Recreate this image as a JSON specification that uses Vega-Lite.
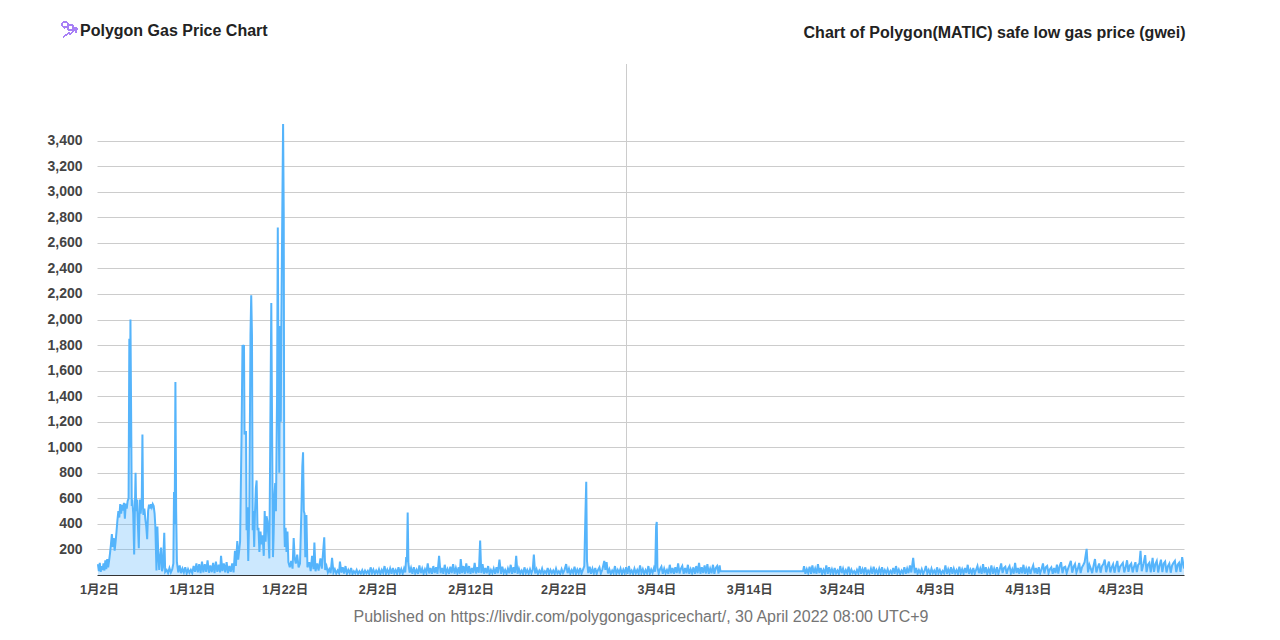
{"$schema":"https://vega.github.io/schema/vega-lite/v6.json","width":1087,"height":511,"autosize":{"type":"none"},"padding":{"left":97,"top":64,"right":96,"bottom":65},"background":"white",
"title":{"text":"Polygon Gas Price Chart","anchor":"start","frame":"group","dx":-17,"offset":-19,"fontSize":16,"fontWeight":"bold","font":"Liberation Sans","color":"#222222"},
"config":{"view":{"stroke":null}},
"datasets":{"gas":[
{"d":0,"g":85},{"d":0.1,"g":30},{"d":0.2,"g":95},{"d":0.3,"g":25},{"d":0.4,"g":70},{"d":0.5,"g":40},{"d":0.6,"g":90},{"d":0.7,"g":35},{"d":0.8,"g":115},{"d":0.9,"g":45},{"d":1,"g":125},{"d":1.1,"g":60},{"d":1.2,"g":110},{"d":1.3,"g":170},{"d":1.4,"g":240},{"d":1.5,"g":320},{"d":1.6,"g":220},{"d":1.7,"g":290},{"d":1.8,"g":190},{"d":1.9,"g":260},{"d":2,"g":340},{"d":2.1,"g":430},{"d":2.2,"g":500},{"d":2.3,"g":450},{"d":2.4,"g":555},{"d":2.5,"g":480},{"d":2.6,"g":550},{"d":2.7,"g":505},{"d":2.8,"g":565},{"d":2.9,"g":440},{"d":3,"g":560},{"d":3.1,"g":520},{"d":3.2,"g":580},{"d":3.3,"g":600},{"d":3.38,"g":1850},{"d":3.44,"g":1000},{"d":3.5,"g":2000},{"d":3.58,"g":1200},{"d":3.64,"g":540},{"d":3.7,"g":590},{"d":3.8,"g":480},{"d":3.9,"g":160},{"d":3.98,"g":520},{"d":4.05,"g":800},{"d":4.12,"g":500},{"d":4.2,"g":590},{"d":4.3,"g":400},{"d":4.4,"g":210},{"d":4.5,"g":590},{"d":4.6,"g":480},{"d":4.72,"g":600},{"d":4.79,"g":1100},{"d":4.86,"g":520},{"d":4.9,"g":470},{"d":5,"g":520},{"d":5.1,"g":440},{"d":5.2,"g":380},{"d":5.3,"g":280},{"d":5.4,"g":500},{"d":5.5,"g":550},{"d":5.6,"g":520},{"d":5.7,"g":555},{"d":5.8,"g":530},{"d":5.9,"g":555},{"d":6,"g":540},{"d":6.1,"g":480},{"d":6.18,"g":380},{"d":6.3,"g":35},{"d":6.4,"g":380},{"d":6.5,"g":150},{"d":6.6,"g":40},{"d":6.7,"g":150},{"d":6.8,"g":215},{"d":6.9,"g":30},{"d":7,"g":60},{"d":7.14,"g":330},{"d":7.24,"g":25},{"d":7.4,"g":40},{"d":7.55,"g":15},{"d":7.7,"g":55},{"d":7.85,"g":20},{"d":8,"g":45},{"d":8.12,"g":90},{"d":8.19,"g":650},{"d":8.26,"g":400},{"d":8.34,"g":1510},{"d":8.42,"g":500},{"d":8.5,"g":100},{"d":8.65,"g":20},{"d":8.8,"g":75},{"d":8.95,"g":15},{"d":9.1,"g":50},{"d":9.25,"g":20},{"d":9.4,"g":60},{"d":9.55,"g":12},{"d":9.7,"g":45},{"d":9.85,"g":18},{"d":10,"g":40},{"d":10.15,"g":15},{"d":10.3,"g":70},{"d":10.45,"g":25},{"d":10.6,"g":90},{"d":10.75,"g":20},{"d":10.9,"g":85},{"d":11.05,"g":15},{"d":11.2,"g":105},{"d":11.35,"g":20},{"d":11.5,"g":85},{"d":11.65,"g":25},{"d":11.8,"g":115},{"d":11.95,"g":18},{"d":12.1,"g":75},{"d":12.25,"g":22},{"d":12.4,"g":95},{"d":12.55,"g":15},{"d":12.7,"g":105},{"d":12.85,"g":25},{"d":13,"g":80},{"d":13.15,"g":20},{"d":13.25,"g":150},{"d":13.4,"g":30},{"d":13.55,"g":90},{"d":13.7,"g":20},{"d":13.85,"g":100},{"d":14,"g":15},{"d":14.15,"g":70},{"d":14.3,"g":25},{"d":14.45,"g":90},{"d":14.6,"g":20},{"d":14.75,"g":190},{"d":14.85,"g":70},{"d":15,"g":265},{"d":15.1,"g":120},{"d":15.3,"g":260},{"d":15.46,"g":1100},{"d":15.56,"g":1800},{"d":15.64,"g":1780},{"d":15.72,"g":1800},{"d":15.78,"g":1100},{"d":15.86,"g":1120},{"d":15.94,"g":1120},{"d":16,"g":350},{"d":16.08,"g":530},{"d":16.18,"g":110},{"d":16.3,"g":540},{"d":16.42,"g":1880},{"d":16.5,"g":2190},{"d":16.58,"g":1880},{"d":16.66,"g":350},{"d":16.72,"g":500},{"d":16.82,"g":220},{"d":16.9,"g":480},{"d":17,"g":680},{"d":17.08,"g":740},{"d":17.18,"g":350},{"d":17.28,"g":370},{"d":17.38,"g":180},{"d":17.5,"g":340},{"d":17.6,"g":240},{"d":17.72,"g":310},{"d":17.85,"g":150},{"d":17.95,"g":500},{"d":18.05,"g":260},{"d":18.15,"g":460},{"d":18.25,"g":420},{"d":18.35,"g":290},{"d":18.45,"g":130},{"d":18.55,"g":1080},{"d":18.66,"g":2130},{"d":18.76,"g":1000},{"d":18.84,"g":140},{"d":18.9,"g":280},{"d":19,"g":620},{"d":19.08,"g":720},{"d":19.16,"g":500},{"d":19.28,"g":1400},{"d":19.36,"g":2720},{"d":19.45,"g":1300},{"d":19.52,"g":800},{"d":19.6,"g":1950},{"d":19.68,"g":1200},{"d":19.74,"g":1950},{"d":19.84,"g":2800},{"d":19.93,"g":3530},{"d":20,"g":2820},{"d":20.06,"g":370},{"d":20.12,"g":220},{"d":20.2,"g":370},{"d":20.3,"g":180},{"d":20.4,"g":340},{"d":20.5,"g":100},{"d":20.65,"g":60},{"d":20.8,"g":110},{"d":20.95,"g":50},{"d":21.07,"g":290},{"d":21.18,"g":130},{"d":21.3,"g":90},{"d":21.45,"g":160},{"d":21.6,"g":60},{"d":21.75,"g":90},{"d":21.9,"g":500},{"d":22,"g":850},{"d":22.08,"g":960},{"d":22.16,"g":500},{"d":22.24,"g":480},{"d":22.32,"g":140},{"d":22.44,"g":470},{"d":22.55,"g":60},{"d":22.75,"g":100},{"d":22.9,"g":30},{"d":23.05,"g":150},{"d":23.2,"g":45},{"d":23.3,"g":255},{"d":23.42,"g":30},{"d":23.6,"g":90},{"d":23.75,"g":35},{"d":23.95,"g":130},{"d":24.1,"g":50},{"d":24.28,"g":220},{"d":24.36,"g":295},{"d":24.46,"g":40},{"d":24.6,"g":70},{"d":24.75,"g":20},{"d":24.9,"g":45},{"d":25.05,"g":15},{"d":25.2,"g":135},{"d":25.35,"g":20},{"d":25.5,"g":45},{"d":25.65,"g":12},{"d":25.8,"g":35},{"d":25.95,"g":15},{"d":26.05,"g":105},{"d":26.2,"g":18},
{"d":26.35,"g":60},{"d":26.5,"g":12},{"d":26.65,"g":70},{"d":26.8,"g":10},{"d":26.95,"g":40},{"d":27.1,"g":15},{"d":27.25,"g":55},{"d":27.4,"g":8},{"d":27.55,"g":30},{"d":27.7,"g":14},{"d":27.85,"g":40},{"d":28,"g":10},{"d":28.15,"g":30},{"d":28.3,"g":12},{"d":28.45,"g":38},{"d":28.6,"g":8},{"d":28.75,"g":35},{"d":28.9,"g":14},{"d":29.05,"g":32},{"d":29.2,"g":9},{"d":29.35,"g":60},{"d":29.5,"g":15},{"d":29.65,"g":42},{"d":29.8,"g":10},{"d":29.95,"g":35},{"d":30.1,"g":14},{"d":30.25,"g":45},{"d":30.4,"g":8},{"d":30.55,"g":40},{"d":30.7,"g":16},{"d":30.85,"g":70},{"d":31,"g":10},{"d":31.15,"g":42},{"d":31.3,"g":12},{"d":31.45,"g":50},{"d":31.6,"g":9},{"d":31.75,"g":55},{"d":31.9,"g":14},{"d":32.05,"g":38},{"d":32.2,"g":10},{"d":32.35,"g":60},{"d":32.5,"g":15},{"d":32.65,"g":45},{"d":32.8,"g":10},{"d":32.95,"g":50},{"d":33.08,"g":20},{"d":33.18,"g":140},{"d":33.26,"g":100},{"d":33.34,"g":490},{"d":33.42,"g":90},{"d":33.55,"g":18},{"d":33.7,"g":55},{"d":33.85,"g":10},{"d":34,"g":60},{"d":34.15,"g":14},{"d":34.3,"g":40},{"d":34.45,"g":9},{"d":34.6,"g":75},{"d":34.75,"g":15},{"d":34.9,"g":50},{"d":35.05,"g":10},{"d":35.2,"g":45},{"d":35.35,"g":16},{"d":35.5,"g":90},{"d":35.65,"g":12},{"d":35.8,"g":55},{"d":35.95,"g":9},{"d":36.1,"g":70},{"d":36.25,"g":15},{"d":36.4,"g":60},{"d":36.55,"g":10},{"d":36.72,"g":150},{"d":36.88,"g":14},{"d":37.03,"g":55},{"d":37.18,"g":10},{"d":37.33,"g":80},{"d":37.48,"g":15},{"d":37.63,"g":45},{"d":37.78,"g":9},{"d":37.93,"g":65},{"d":38.08,"g":14},{"d":38.23,"g":85},{"d":38.38,"g":10},{"d":38.53,"g":55},{"d":38.68,"g":16},{"d":38.83,"g":60},{"d":38.95,"g":10},{"d":39.05,"g":125},{"d":39.2,"g":15},{"d":39.35,"g":70},{"d":39.5,"g":10},{"d":39.65,"g":90},{"d":39.8,"g":14},{"d":39.95,"g":70},{"d":40.1,"g":9},{"d":40.25,"g":55},{"d":40.4,"g":15},{"d":40.55,"g":95},{"d":40.7,"g":12},{"d":40.85,"g":60},{"d":41,"g":18},{"d":41.14,"g":270},{"d":41.26,"g":15},{"d":41.4,"g":85},{"d":41.55,"g":10},{"d":41.7,"g":55},{"d":41.85,"g":14},{"d":42,"g":70},{"d":42.15,"g":9},{"d":42.3,"g":40},{"d":42.45,"g":15},{"d":42.6,"g":50},{"d":42.75,"g":10},{"d":42.9,"g":60},{"d":43.05,"g":14},{"d":43.22,"g":120},{"d":43.38,"g":10},{"d":43.53,"g":65},{"d":43.68,"g":15},{"d":43.83,"g":40},{"d":43.98,"g":9},{"d":44.13,"g":50},{"d":44.28,"g":14},{"d":44.43,"g":80},{"d":44.58,"g":10},{"d":44.73,"g":60},{"d":44.88,"g":16},{"d":45.02,"g":150},{"d":45.16,"g":10},{"d":45.31,"g":50},{"d":45.46,"g":14},{"d":45.61,"g":35},{"d":45.76,"g":9},{"d":45.91,"g":60},{"d":46.06,"g":15},{"d":46.21,"g":40},{"d":46.36,"g":10},{"d":46.51,"g":45},{"d":46.66,"g":14},{"d":46.8,"g":40},{"d":46.92,"g":160},{"d":47.06,"g":12},{"d":47.21,"g":45},{"d":47.36,"g":9},{"d":47.51,"g":35},{"d":47.66,"g":15},{"d":47.81,"g":50},{"d":47.96,"g":10},{"d":48.11,"g":30},{"d":48.26,"g":14},{"d":48.41,"g":55},{"d":48.56,"g":9},{"d":48.71,"g":40},{"d":48.86,"g":15},{"d":49.01,"g":35},{"d":49.16,"g":10},{"d":49.31,"g":50},{"d":49.46,"g":14},{"d":49.61,"g":30},{"d":49.76,"g":9},{"d":49.91,"g":45},{"d":50.06,"g":15},{"d":50.2,"g":35},{"d":50.4,"g":85},{"d":50.55,"g":14},{"d":50.7,"g":50},{"d":50.85,"g":10},{"d":51,"g":38},{"d":51.15,"g":15},{"d":51.3,"g":65},{"d":51.45,"g":9},{"d":51.6,"g":42},{"d":51.75,"g":14},{"d":51.9,"g":55},{"d":52.05,"g":10},{"d":52.2,"g":40},{"d":52.35,"g":70},{"d":52.48,"g":500},{"d":52.56,"g":730},{"d":52.64,"g":110},{"d":52.78,"g":15},{"d":52.93,"g":65},{"d":53.08,"g":10},{"d":53.23,"g":50},{"d":53.38,"g":14},{"d":53.53,"g":55},{"d":53.68,"g":9},{"d":53.83,"g":40},{"d":53.98,"g":60},{"d":54.13,"g":12},{"d":54.3,"g":45},{"d":54.5,"g":110},{"d":54.62,"g":40},{"d":54.75,"g":100},{"d":54.9,"g":12},{"d":55.05,"g":45},{"d":55.2,"g":9},{"d":55.35,"g":35},{"d":55.5,"g":14},{"d":55.65,"g":70},{"d":55.8,"g":10},{"d":55.95,"g":40},{"d":56.1,"g":15},{"d":56.25,"g":50},{"d":56.4,"g":9},{"d":56.55,"g":42},{"d":56.7,"g":14},{"d":56.85,"g":60},{"d":57,"g":10},{"d":57.15,"g":70},{"d":57.3,"g":15},{"d":57.45,"g":35},{"d":57.6,"g":9},{"d":57.75,"g":50},{"d":57.9,"g":14},{"d":58.05,"g":40},{"d":58.2,"g":10},{"d":58.35,"g":75},{"d":58.5,"g":15},{"d":58.65,"g":45},{"d":58.8,"g":9},{"d":58.95,"g":38},{"d":59.1,"g":14},{"d":59.25,"g":70},{"d":59.4,"g":10},{"d":59.55,"g":42},{"d":59.7,"g":16},{"d":59.85,"g":55},{"d":59.98,"g":25},{"d":60.08,"g":380},{"d":60.15,"g":415},{"d":60.22,"g":60},{"d":60.36,"g":12},{"d":60.5,"g":45},{"d":60.65,"g":65},{"d":60.8,"g":10},{"d":60.95,"g":50},{"d":61.1,"g":15},{"d":61.25,"g":40},{"d":61.4,"g":9},{"d":61.55,"g":80},{"d":61.7,"g":14},{"d":61.85,"g":55},{"d":62,"g":10},{"d":62.15,"g":60},{"d":62.3,"g":15},{"d":62.45,"g":90},{"d":62.6,"g":12},{"d":62.75,"g":50},{"d":62.9,"g":70},{"d":63.05,"g":9},{"d":63.2,"g":55},{"d":63.35,"g":14},{"d":63.5,"g":80},{"d":63.65,"g":10},{"d":63.8,"g":45},{"d":63.95,"g":15},{"d":64.1,"g":60},{"d":64.25,"g":9},{"d":64.4,"g":70},{"d":64.55,"g":14},{"d":64.7,"g":95},{"d":64.85,"g":10},{"d":65,"g":60},{"d":65.15,"g":15},{"d":65.3,"g":75},{"d":65.45,"g":12},{"d":65.6,"g":85},{"d":65.75,"g":9},{"d":65.9,"g":50},{"d":66.05,"g":14},{"d":66.2,"g":80},{"d":66.35,"g":10},{"d":66.5,"g":55},{"d":66.65,"g":70},{"d":66.8,"g":12},{"d":66.92,"g":75},{"d":67,"g":30},{"d":75.9,"g":30},
{"d":76,"g":70},{"d":76.15,"g":10},{"d":76.3,"g":45},{"d":76.45,"g":15},{"d":76.6,"g":65},{"d":76.75,"g":9},{"d":76.9,"g":75},{"d":77.05,"g":14},{"d":77.2,"g":50},{"d":77.35,"g":10},{"d":77.5,"g":85},{"d":77.65,"g":15},{"d":77.8,"g":55},{"d":77.95,"g":9},{"d":78.1,"g":40},{"d":78.25,"g":14},{"d":78.4,"g":75},{"d":78.55,"g":10},{"d":78.7,"g":60},{"d":78.85,"g":15},{"d":79,"g":45},{"d":79.15,"g":9},{"d":79.3,"g":55},{"d":79.45,"g":14},{"d":79.6,"g":35},{"d":79.75,"g":10},{"d":79.9,"g":70},{"d":80.05,"g":15},{"d":80.2,"g":50},{"d":80.35,"g":9},{"d":80.5,"g":38},{"d":80.65,"g":14},{"d":80.8,"g":65},{"d":80.95,"g":10},{"d":81.1,"g":42},{"d":81.25,"g":15},{"d":81.4,"g":30},{"d":81.55,"g":9},{"d":81.7,"g":40},{"d":81.85,"g":14},{"d":82,"g":70},{"d":82.15,"g":10},{"d":82.3,"g":45},{"d":82.45,"g":15},{"d":82.6,"g":60},{"d":82.75,"g":9},{"d":82.9,"g":35},{"d":83.05,"g":14},{"d":83.2,"g":50},{"d":83.35,"g":10},{"d":83.5,"g":65},{"d":83.65,"g":15},{"d":83.8,"g":40},{"d":83.95,"g":9},{"d":84.1,"g":50},{"d":84.25,"g":14},{"d":84.4,"g":60},{"d":84.55,"g":10},{"d":84.7,"g":38},{"d":84.85,"g":15},{"d":85,"g":45},{"d":85.15,"g":9},{"d":85.3,"g":32},{"d":85.45,"g":14},{"d":85.6,"g":55},{"d":85.75,"g":10},{"d":85.9,"g":70},{"d":86.05,"g":15},{"d":86.2,"g":42},{"d":86.35,"g":9},{"d":86.5,"g":35},{"d":86.65,"g":14},{"d":86.8,"g":60},{"d":86.95,"g":10},{"d":87.1,"g":50},{"d":87.25,"g":15},{"d":87.4,"g":75},{"d":87.55,"g":20},{"d":87.75,"g":135},{"d":87.92,"g":14},{"d":88.07,"g":55},{"d":88.22,"g":10},{"d":88.37,"g":38},{"d":88.52,"g":15},{"d":88.67,"g":45},{"d":88.82,"g":9},{"d":88.97,"g":32},{"d":89.12,"g":70},{"d":89.27,"g":14},{"d":89.42,"g":40},{"d":89.57,"g":10},{"d":89.72,"g":50},{"d":89.87,"g":15},{"d":90.02,"g":35},{"d":90.17,"g":9},{"d":90.32,"g":60},{"d":90.47,"g":14},{"d":90.62,"g":40},{"d":90.77,"g":10},{"d":90.92,"g":32},{"d":91.07,"g":15},{"d":91.22,"g":75},{"d":91.37,"g":9},{"d":91.52,"g":45},{"d":91.67,"g":14},{"d":91.82,"g":60},{"d":91.97,"g":10},{"d":92.12,"g":50},{"d":92.27,"g":15},{"d":92.42,"g":38},{"d":92.57,"g":9},{"d":92.72,"g":65},{"d":92.87,"g":14},{"d":93.02,"g":45},{"d":93.17,"g":10},{"d":93.32,"g":55},{"d":93.47,"g":15},{"d":93.62,"g":80},{"d":93.77,"g":9},{"d":93.92,"g":42},{"d":94.07,"g":14},{"d":94.22,"g":55},{"d":94.37,"g":10},{"d":94.52,"g":40},{"d":94.67,"g":70},{"d":94.82,"g":15},{"d":94.97,"g":50},{"d":95.12,"g":9},{"d":95.27,"g":85},{"d":95.42,"g":14},{"d":95.57,"g":60},{"d":95.72,"g":10},{"d":95.87,"g":45},{"d":96.02,"g":15},{"d":96.17,"g":75},{"d":96.32,"g":9},{"d":96.47,"g":50},{"d":96.62,"g":14},{"d":96.77,"g":60},{"d":96.92,"g":10},{"d":97.07,"g":45},{"d":97.22,"g":90},{"d":97.37,"g":15},{"d":97.52,"g":55},{"d":97.67,"g":65},{"d":97.82,"g":9},{"d":97.97,"g":50},{"d":98.12,"g":70},{"d":98.27,"g":14},{"d":98.42,"g":45},{"d":98.57,"g":10},{"d":98.72,"g":95},{"d":98.87,"g":15},{"d":99.02,"g":55},{"d":99.17,"g":9},{"d":99.32,"g":60},{"d":99.47,"g":14},{"d":99.62,"g":80},{"d":99.77,"g":10},{"d":99.92,"g":50},{"d":100.07,"g":15},{"d":100.22,"g":65},{"d":100.37,"g":9},{"d":100.52,"g":45},{"d":100.67,"g":75},{"d":100.82,"g":14},{"d":100.97,"g":55},{"d":101.12,"g":10},{"d":101.27,"g":60},{"d":101.42,"g":15},{"d":101.57,"g":45},{"d":101.72,"g":90},{"d":101.87,"g":12},{"d":102.02,"g":60},{"d":102.17,"g":70},{"d":102.32,"g":14},{"d":102.47,"g":45},{"d":102.62,"g":60},{"d":102.77,"g":10},{"d":102.92,"g":55},{"d":103.07,"g":15},{"d":103.22,"g":80},{"d":103.37,"g":12},{"d":103.52,"g":70},{"d":103.67,"g":100},{"d":103.82,"g":14},{"d":103.97,"g":60},{"d":104.12,"g":65},{"d":104.27,"g":15},{"d":104.42,"g":50},{"d":104.57,"g":80},{"d":104.72,"g":110},{"d":104.87,"g":18},{"d":105.02,"g":65},{"d":105.17,"g":85},{"d":105.32,"g":20},{"d":105.47,"g":50},{"d":105.62,"g":95},{"d":105.77,"g":15},{"d":105.92,"g":60},{"d":106.07,"g":80},{"d":106.2,"g":100},{"d":106.42,"g":205},{"d":106.57,"g":20},{"d":106.72,"g":80},{"d":106.87,"g":50},{"d":107.02,"g":15},{"d":107.17,"g":75},{"d":107.32,"g":125},{"d":107.47,"g":20},{"d":107.62,"g":60},{"d":107.77,"g":90},{"d":107.92,"g":18},{"d":108.07,"g":70},{"d":108.22,"g":85},{"d":108.37,"g":120},{"d":108.52,"g":22},{"d":108.67,"g":70},{"d":108.82,"g":105},{"d":108.97,"g":20},{"d":109.12,"g":60},{"d":109.27,"g":85},{"d":109.42,"g":18},{"d":109.57,"g":70},{"d":109.72,"g":110},{"d":109.87,"g":22},{"d":110.02,"g":65},{"d":110.17,"g":80},{"d":110.32,"g":95},{"d":110.47,"g":20},{"d":110.62,"g":60},{"d":110.77,"g":115},{"d":110.92,"g":25},{"d":111.07,"g":75},{"d":111.22,"g":90},{"d":111.37,"g":20},{"d":111.52,"g":65},{"d":111.67,"g":100},{"d":111.82,"g":22},{"d":111.97,"g":80},{"d":112.1,"g":90},{"d":112.22,"g":190},{"d":112.35,"g":30},{"d":112.55,"g":90},{"d":112.72,"g":155},{"d":112.87,"g":22},{"d":113.02,"g":80},{"d":113.17,"g":95},{"d":113.32,"g":20},{"d":113.52,"g":135},{"d":113.67,"g":25},{"d":113.82,"g":85},{"d":113.97,"g":110},{"d":114.12,"g":20},{"d":114.27,"g":75},{"d":114.42,"g":120},{"d":114.57,"g":22},{"d":114.72,"g":90},{"d":114.87,"g":105},{"d":115.02,"g":20},{"d":115.17,"g":70},{"d":115.32,"g":90},{"d":115.47,"g":18},{"d":115.62,"g":75},{"d":115.77,"g":95},{"d":115.92,"g":110},{"d":116.07,"g":22},{"d":116.22,"g":80},{"d":116.37,"g":95},{"d":116.52,"g":25},{"d":116.7,"g":140},{"d":116.9,"g":50}
]},
"data":{"name":"gas"},
"layer":[
{"mark":{"type":"rule","color":"#cccccc","strokeWidth":1},"encoding":{"x":{"datum":56.894,"type":"quantitative"}}},
{"mark":{"type":"area","color":"#55b4fb","opacity":0.3,"clip":true},"encoding":{
"x":{"field":"d","type":"quantitative","scale":{"domain":[-0.1,116.9],"nice":false,"zero":false},
"axis":{"values":[0,10,20,30,40,50,60,70,80,90,100,110],"tickCount":20,"labelExpr":"['1月2日','1月12日','1月22日','2月2日','2月12日','2月22日','3月4日','3月14日','3月24日','4月3日','4月13日','4月23日'][datum.value/10]","grid":false,"ticks":false,"domain":true,"domainColor":"#333333","domainWidth":1,"labelFont":"Liberation Sans, Noto Sans CJK JP","labelFontSize":12.5,"labelFontWeight":"bold","labelColor":"#444444","labelPadding":8,"labelOffset":1,"labelFlush":false,"labelOverlap":false,
"title":"Published on https://livdir.com/polygongaspricechart/, 30 April 2022 08:00 UTC+9","titleFont":"Liberation Sans","titleFontSize":16,"titleFontWeight":"normal","titleColor":"#757575","titlePadding":13}},
"y":{"field":"g","type":"quantitative","scale":{"domain":[0,4000],"nice":false},
"axis":{"values":[200,400,600,800,1000,1200,1400,1600,1800,2000,2200,2400,2600,2800,3000,3200,3400],"tickCount":20,"format":",d","grid":true,"gridColor":"#cccccc","gridWidth":1,"ticks":false,"domain":false,"labelOverlap":false,"labelFont":"Liberation Sans","labelFontSize":14,"labelFontWeight":"bold","labelColor":"#444444","labelPadding":15,
"title":"Chart of Polygon(MATIC) safe low gas price (gwei)","titleAngle":0,"titleAlign":"right","titleBaseline":"middle","titleX":1088,"titleY":-32,"titleFont":"Liberation Sans","titleFontSize":16,"titleFontWeight":"bold","titleColor":"#222222"}}}},
{"mark":{"type":"line","color":"#55b4fb","strokeWidth":2,"clip":true},"encoding":{"x":{"field":"d","type":"quantitative"},"y":{"field":"g","type":"quantitative"}}},
{"mark":{"type":"point","filled":false,"stroke":"#a77ff5","strokeWidth":1,"size":260,"clip":false,"shape":"M-0.15,-0.6A0.36,0.36 0 1 1 -0.87,-0.6A0.36,0.36 0 1 1 -0.15,-0.6M0.55,-0.25A0.36,0.36 0 1 1 -0.17,-0.25A0.36,0.36 0 1 1 0.55,-0.25M-0.7,0.95L-0.05,0.4L0.2,0.6L0.9,-0.1M0.4,-0.1L0.95,-0.15L0.9,0.4"},"encoding":{"x":{"datum":-3.11,"type":"quantitative"},"y":{"datum":4270,"type":"quantitative"}}}
]}
